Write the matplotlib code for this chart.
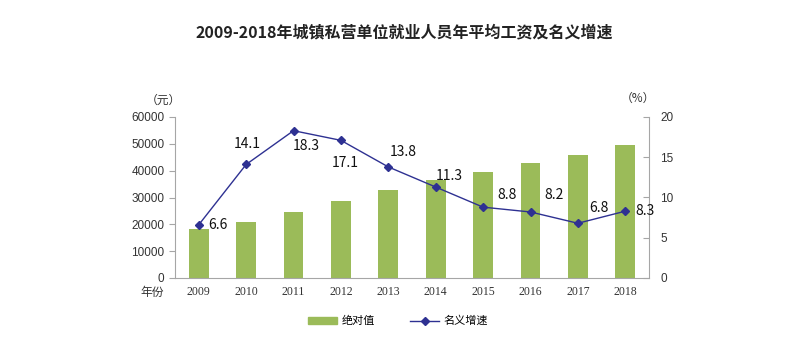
import matplotlib
matplotlib.use("Agg")
import matplotlib.pyplot as plt
from matplotlib.lines import Line2D
from matplotlib.patches import Patch

plt.rcParams['font.family'] = ['Noto Sans CJK SC', 'DejaVu Sans']

years = ['2009', '2010', '2011', '2012', '2013', '2014', '2015', '2016', '2017', '2018']
wages = [18199, 20759, 24556, 28752, 32706, 36390, 39589, 42833, 45761, 49575]
growth = [6.6, 14.1, 18.3, 17.1, 13.8, 11.3, 8.8, 8.2, 6.8, 8.3]
label_offsets = [(14, 0), (1, 15), (9, -11), (3, -16), (11, 11), (10, 8), (17, 9), (17, 12), (15, 11), (14, 0)]

BAR = '#9BBB59'
LINE = '#2E3192'
GRAY = '#A6A6A6'
TXT = '#333333'

fig = plt.figure(figsize=(8.08, 3.57), dpi=100)
ax = fig.add_axes([175/808, 1-278/357, (649-175)/808, (278-117)/357])
x = list(range(len(years)))
ax.bar(x, wages, width=0.42, color=BAR, zorder=2)
ax.set_ylim(0, 60000)
ax.set_yticks(range(0, 60001, 10000))
ax.set_xlim(-0.5, len(years)-0.5)
ax.set_xticks(x)
ax.set_xticklabels(years, family=['Liberation Serif', 'DejaVu Serif'], fontsize=8.5, color=TXT)
ax.tick_params(axis='x', length=0, pad=6)
ax.tick_params(axis='y', labelsize=8.5, labelcolor=TXT, color=GRAY, length=4, direction='out')
for t in ax.get_yticklabels():
    t.set_family(['Liberation Sans', 'DejaVu Sans'])
for s in ['top', 'right']:
    ax.spines[s].set_visible(False)
ax.spines['left'].set_color(GRAY)
ax.spines['bottom'].set_color(GRAY)

ax2 = ax.twinx()
ax2.plot(x, growth, color=LINE, lw=1, marker='D', markersize=4, zorder=3)
ax2.set_ylim(0, 20)
ax2.set_yticks(range(0, 21, 5))
ax2.tick_params(axis='y', labelsize=8.5, labelcolor=TXT, color=GRAY, length=4, direction='in', pad=8)
for t in ax2.get_yticklabels():
    t.set_family(['Liberation Sans', 'DejaVu Sans'])
for s in ['top', 'left', 'bottom']:
    ax2.spines[s].set_visible(False)
ax2.spines['right'].set_color(GRAY)
for xi, g, off in zip(x, growth, label_offsets):
    ax2.annotate(f'{g}', (xi, g), xytext=off, textcoords='offset points',
                 ha='center', va='center', fontsize=10, color='#111111')

fig.text(0.5, 1-32/357, '2009-2018年城镇私营单位就业人员年平均工资及名义增速',
         ha='center', va='center', fontsize=11.5, fontweight='bold', color='#222222')
fig.text(163/808, 1-100/357, '（元）', ha='center', va='center', fontsize=8.5, color=TXT)
fig.text(638/808, 1-98/357, '（%）', ha='center', va='center', fontsize=8.5, color=TXT)
fig.text(152/808, 1-292/357, '年份', ha='center', va='center', fontsize=8.5, color=TXT)

handles = [Patch(color=BAR, label='绝对值'),
           Line2D([0], [0], color=LINE, lw=1, marker='D', markersize=4, label='名义增速')]
fig.legend(handles=handles, loc='center', bbox_to_anchor=(398/808, 1-321/357), ncol=2,
           frameon=False, fontsize=8, handlelength=2.6, handleheight=0.6,
           handletextpad=0.4, columnspacing=3.2)

fig.savefig('out.png', dpi=100)
